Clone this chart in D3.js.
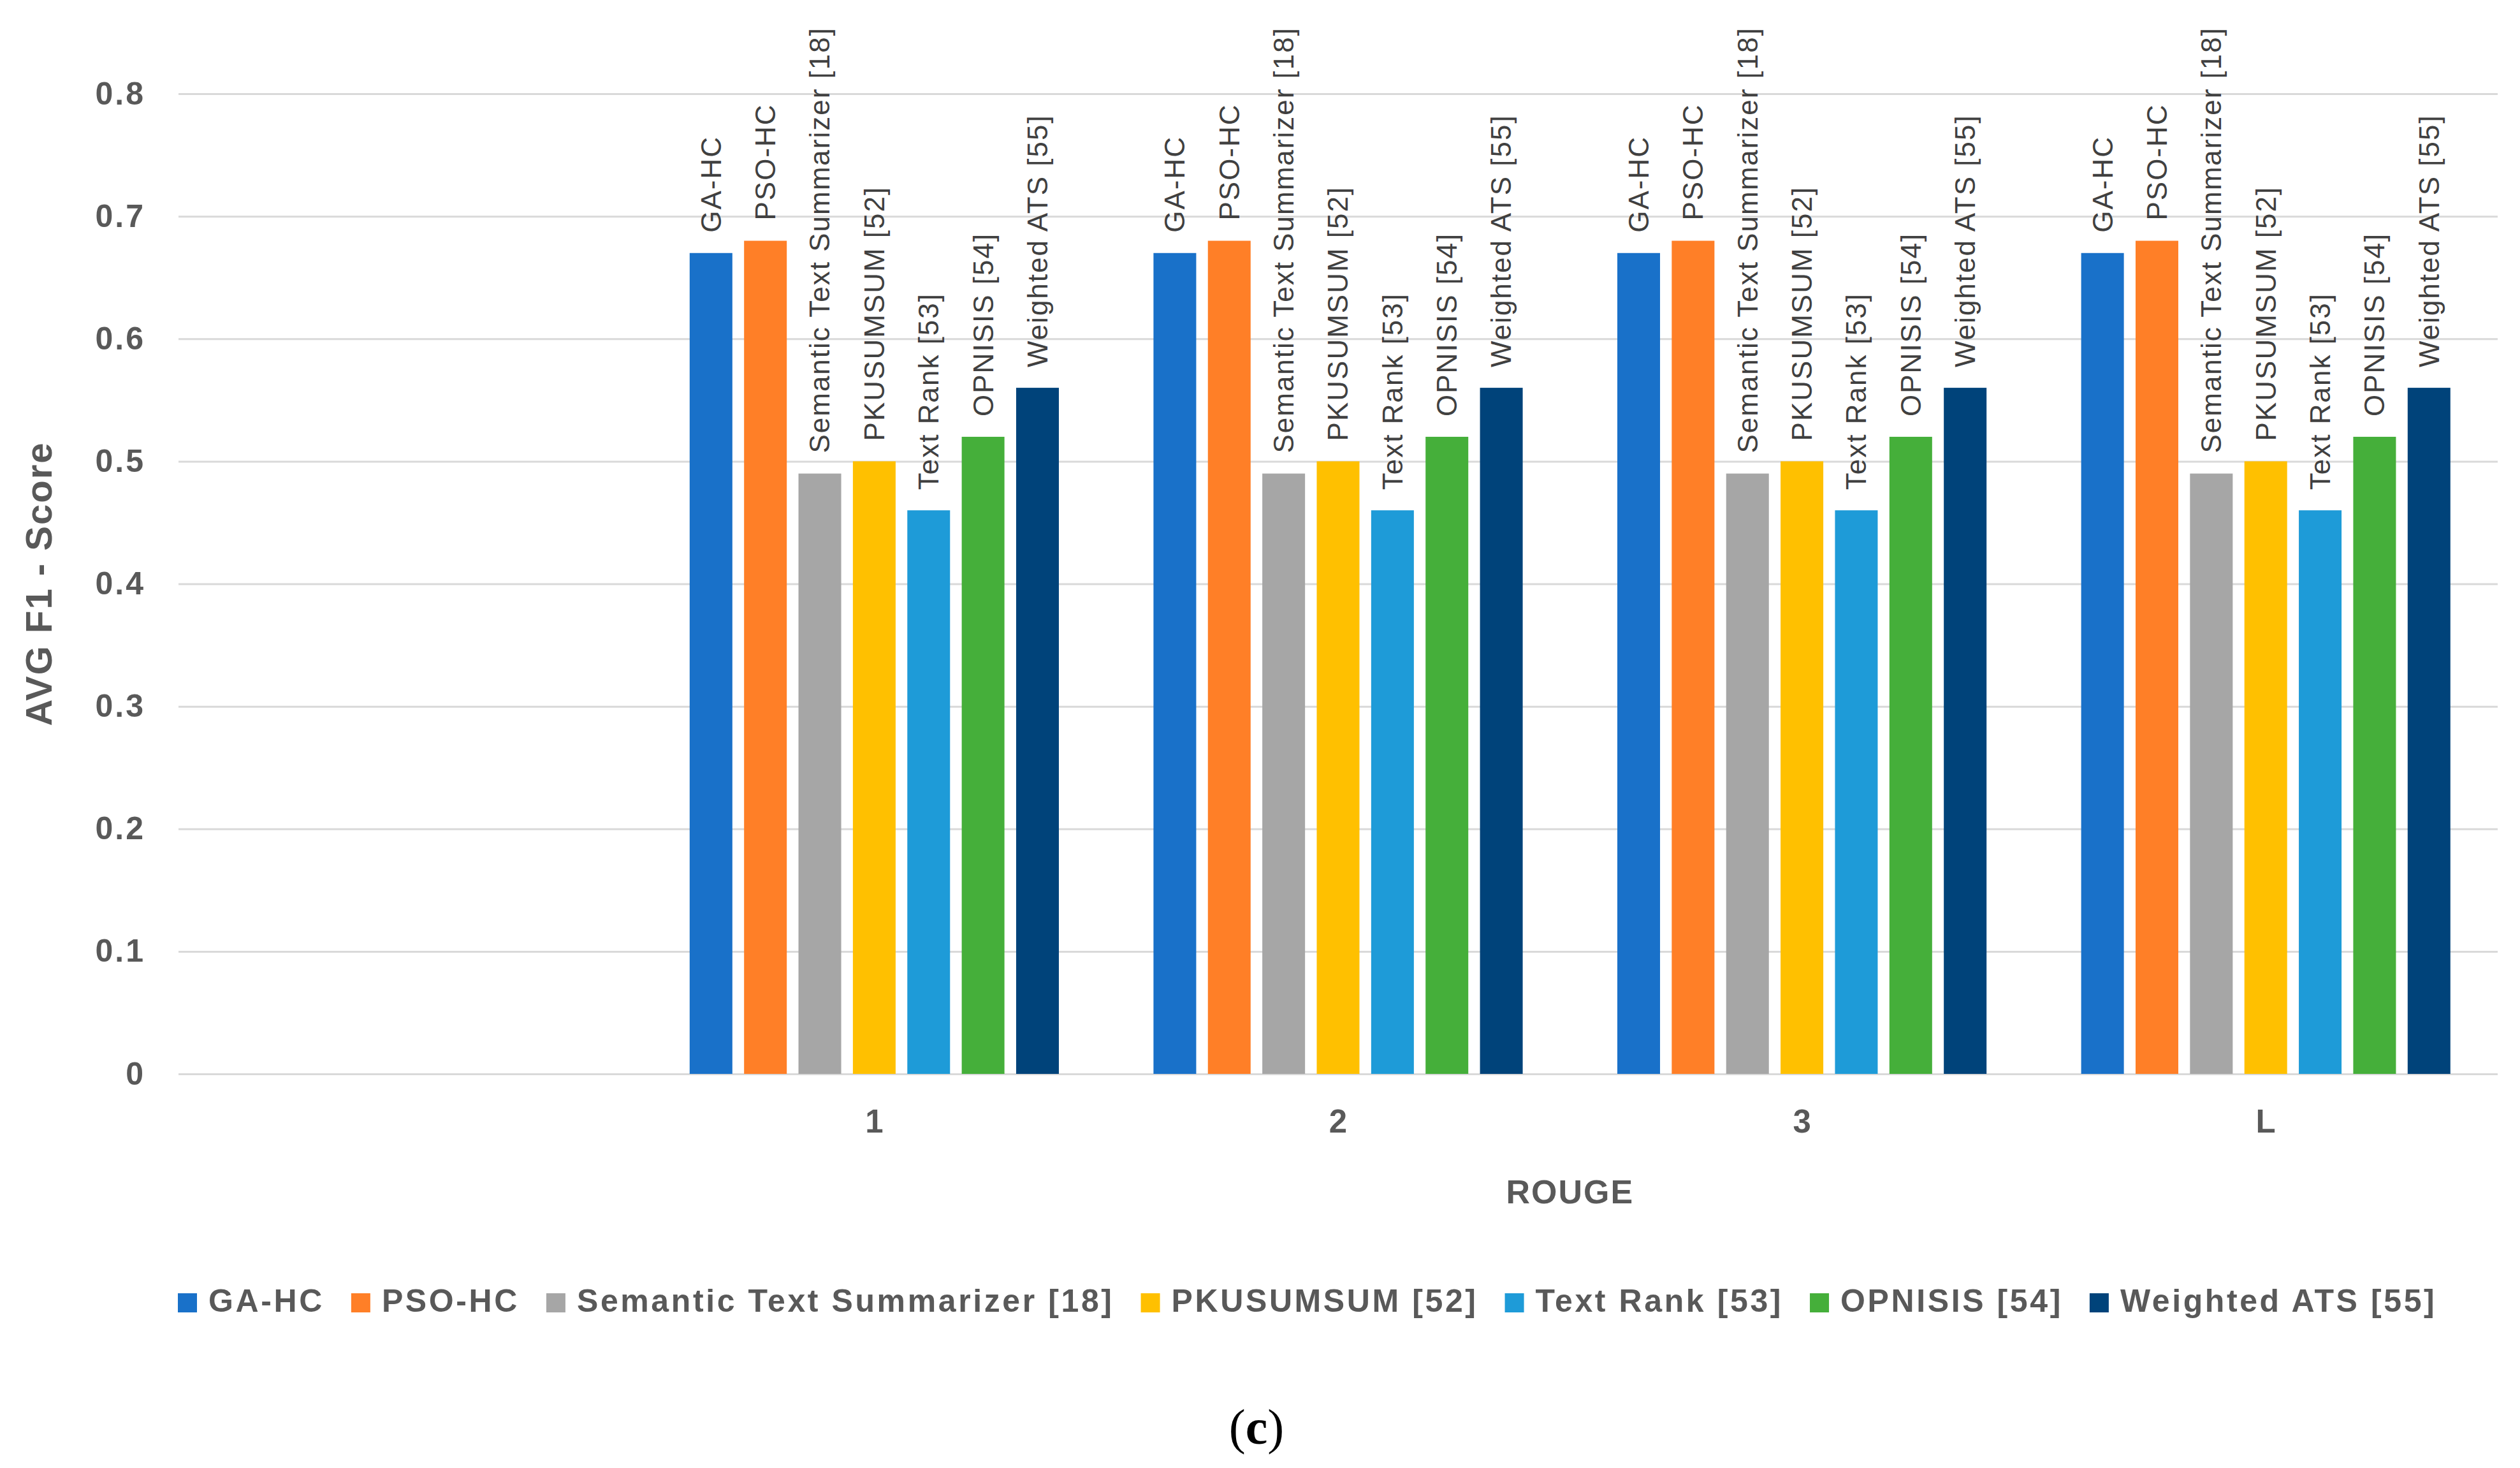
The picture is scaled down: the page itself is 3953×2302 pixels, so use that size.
<!DOCTYPE html>
<html>
<head>
<meta charset="utf-8">
<script src="https://cdnjs.cloudflare.com/ajax/libs/d3/7.8.5/d3.min.js"></script>
<style>
    body { margin: 0; background: #fff; }
    text { font-family: "Liberation Sans", Arial, sans-serif; }
</style>
</head>
<body>
<div id="chart"></div>
<script>
const width = 3953, height = 2302;

// data
const categories = ["", "1", "2", "3", "L"];
const methods = ["GA-HC", "PSO-HC", "Semantic Text Summarizer [18]", "PKUSUMSUM [52]", "Text Rank [53]", "OPNISIS [54]", "Weighted ATS [55]"];
const colors = ["#1971c9", "#ff7f27", "#a6a6a6", "#ffc000", "#1e9bd8", "#45af3a", "#00437a"];
const gaHc = [null, 0.67, 0.67, 0.67, 0.67];
const psoHc = [null, 0.68, 0.68, 0.68, 0.68];
const semantic = [null, 0.49, 0.49, 0.49, 0.49];
const pkusumsum = [null, 0.50, 0.50, 0.50, 0.50];
const textRank = [null, 0.46, 0.46, 0.46, 0.46];
const opnisis = [null, 0.52, 0.52, 0.52, 0.52];
const weightedAts = [null, 0.56, 0.56, 0.56, 0.56];
const yTicks = [0, 0.1, 0.2, 0.3, 0.4, 0.5, 0.6, 0.7, 0.8];

const series = [gaHc, psoHc, semantic, pkusumsum, textRank, opnisis, weightedAts];

const plotLeft = 280, plotRight = 3918, plotTop = 147, plotBottom = 1684;
const textColor = "#595959";

const svg = d3.select("#chart").append("svg")
    .attr("width", width)
    .attr("height", height);

const x0 = d3.scaleBand().domain(categories).range([plotLeft, plotRight]);
const bw0 = x0.bandwidth();
const x1 = d3.scaleBand().domain(methods)
    .range([bw0 * 0.102, bw0 * 0.898])
    .paddingInner(0.215);
const y = d3.scaleLinear().domain([0, 0.8]).range([plotBottom, plotTop]);
const color = d3.scaleOrdinal().domain(methods).range(colors);

// gridlines + y tick labels
const yAxis = svg.append("g")
    .attr("transform", `translate(${plotLeft},0)`)
    .call(d3.axisLeft(y)
        .tickValues(yTicks)
        .tickSize(-(plotRight - plotLeft))
        .tickPadding(52)
        .tickFormat(d => d === 0 ? "0" : d.toFixed(1)));
yAxis.select(".domain").remove();
yAxis.selectAll("line").attr("stroke", "#d9d9d9").attr("stroke-width", 3);
yAxis.selectAll("text")
    .attr("fill", textColor)
    .style("font-size", "50px")
    .style("font-weight", "bold")
    .style("letter-spacing", "3px")
    .style("font-family", "'Liberation Sans', Arial, sans-serif");

// x axis labels
const xAxis = svg.append("g")
    .attr("transform", `translate(0,${plotBottom})`)
    .call(d3.axisBottom(x0).tickSize(0).tickPadding(56));
xAxis.select(".domain").remove();
xAxis.selectAll("text")
    .attr("fill", textColor)
    .style("font-size", "51px")
    .style("font-weight", "bold")
    .style("font-family", "'Liberation Sans', Arial, sans-serif");

// bars
const rows = categories.map((c, i) => ({
    cat: c,
    vals: methods.map((m, j) => ({ method: m, value: series[j][i] })).filter(d => d.value !== null)
}));

const groups = svg.append("g").selectAll("g")
    .data(rows)
    .join("g")
    .attr("transform", d => `translate(${x0(d.cat)},0)`);

groups.selectAll("rect")
    .data(d => d.vals)
    .join("rect")
    .attr("x", d => x1(d.method))
    .attr("y", d => y(d.value))
    .attr("width", x1.bandwidth())
    .attr("height", d => y(0) - y(d.value))
    .attr("fill", d => color(d.method));

// rotated labels above bars
groups.selectAll("text")
    .data(d => d.vals)
    .join("text")
    .attr("transform", d => {
        let lx = x1(d.method) + x1.bandwidth() / 2;
        let ly = y(d.value) - 32;
        return `translate(${lx},${ly}) rotate(-90)`;
    })
    .attr("dy", "0.35em")
    .attr("fill", "#404040")
    .style("font-size", "44px")
    .style("letter-spacing", "2px")
    .text(d => d.method);

// axis titles
svg.append("text")
    .attr("transform", `translate(81,${(plotTop + plotBottom) / 2}) rotate(-90)`)
    .attr("text-anchor", "middle")
    .attr("fill", textColor)
    .style("font-size", "58px")
    .style("font-weight", "bold")
    .style("letter-spacing", "2px")
    .text("AVG F1 - Score");

svg.append("text")
    .attr("x", (x0("1") + x0("L") + bw0) / 2)
    .attr("y", 1887)
    .attr("text-anchor", "middle")
    .attr("fill", textColor)
    .style("font-size", "52px")
    .style("font-weight", "bold")
    .style("letter-spacing", "2px")
    .text("ROUGE");

// legend
const legend = svg.append("g").attr("transform", "translate(279,2057)");
let legendX = 0;
methods.forEach((m, i) => {
    const item = legend.append("g").attr("transform", `translate(${legendX},0)`);
    item.append("rect")
        .attr("x", 0)
        .attr("y", -29)
        .attr("width", 30)
        .attr("height", 30)
        .attr("fill", colors[i]);
    const t = item.append("text")
        .attr("x", 48)
        .attr("fill", textColor)
        .style("font-size", "50px")
        .style("font-weight", "bold")
        .style("letter-spacing", "3.6px")
        .text(m);
    legendX += 48 + t.node().getComputedTextLength() + 42;
});

// caption: thin parens, bold letter
const caption = svg.append("text")
    .attr("x", 1971)
    .attr("y", 2264)
    .attr("text-anchor", "middle")
    .attr("fill", "#000")
    .style("font-family", "'Liberation Serif', 'Times New Roman', serif")
    .style("font-size", "78px");
caption.append("tspan").text("(");
caption.append("tspan").style("font-weight", "bold").text("c");
caption.append("tspan").text(")");
</script>
</body>
</html>
